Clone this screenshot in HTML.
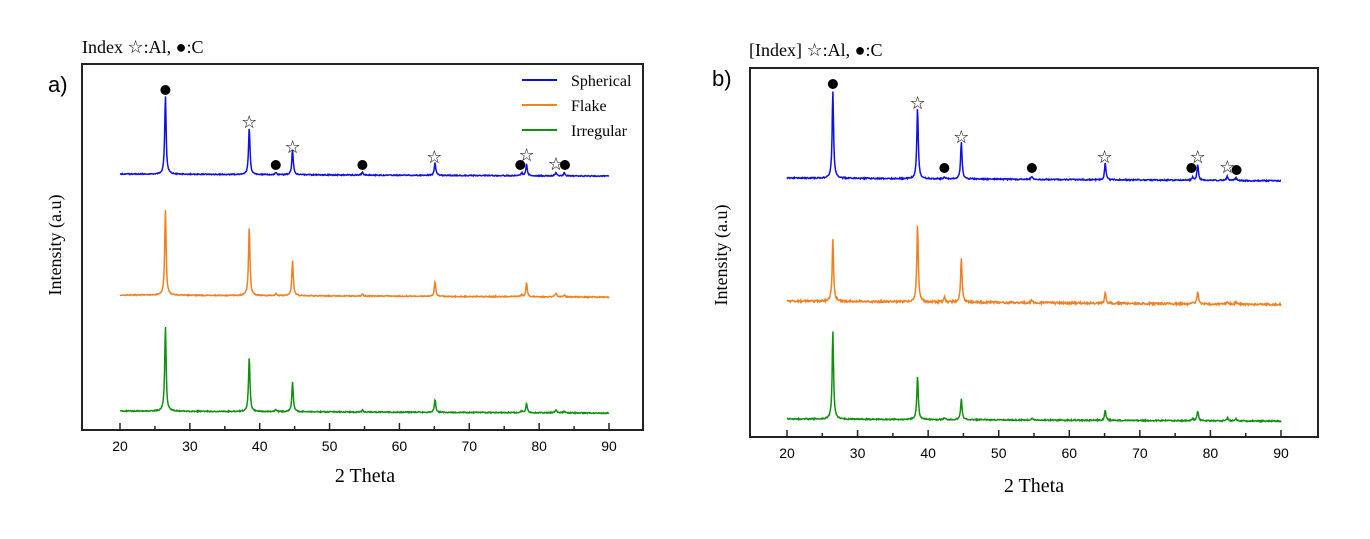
<!DOCTYPE html>
<html><head><meta charset="utf-8"><style>
body{margin:0;background:#fff;width:1370px;height:534px;overflow:hidden}
svg text{font-family:"Liberation Serif",serif}
.t{font-family:"Liberation Sans",sans-serif;font-size:14px}
</style></head><body>
<svg id="s" width="1370" height="534" xmlns="http://www.w3.org/2000/svg">
<text x="82" y="53" font-size="18">Index ☆:Al, ●:C</text>
<text x="48" y="92" font-size="22" style="font-family:'Liberation Sans',sans-serif">a)</text>
<rect x="82" y="64" width="561" height="366" fill="none" stroke="#222" stroke-width="2"/>
<text transform="translate(61,245) rotate(-90)" font-size="18" text-anchor="middle">Intensity (a.u)</text>
<text x="365" y="482" font-size="20" text-anchor="middle">2 Theta</text>
<line x1="522" y1="80" x2="557" y2="80" stroke="#1010e0" stroke-width="2"/>
<line x1="522" y1="105" x2="557" y2="105" stroke="#f08020" stroke-width="2"/>
<line x1="522" y1="130" x2="557" y2="130" stroke="#109010" stroke-width="2"/>
<text x="571" y="86" font-size="16">Spherical</text>
<text x="571" y="111" font-size="16">Flake</text>
<text x="571" y="136" font-size="16">Irregular</text>

<text x="749" y="56" font-size="18">[Index] ☆:Al, ●:C</text>
<text x="712" y="86" font-size="22" style="font-family:'Liberation Sans',sans-serif">b)</text>
<rect x="750" y="68" width="568" height="369" fill="none" stroke="#222" stroke-width="2"/>
<text transform="translate(727,255) rotate(-90)" font-size="18" text-anchor="middle">Intensity (a.u)</text>
<text x="1034" y="492" font-size="20" text-anchor="middle">2 Theta</text>
</svg>
<script>
var s=document.getElementById('s'),NS="http://www.w3.org/2000/svg";
function el(t,a,txt){var e=document.createElementNS(NS,t);for(var k in a)e.setAttribute(k,a[k]);if(txt)e.textContent=txt;s.appendChild(e);return e;}
var seed=1;function rnd(){seed=(seed*9301+49297)%233280;return seed/233280;}
function panel(P){
 var X=function(v){return P.x20+(v-20)*(P.x90-P.x20)/70;};
 for(var v=20;v<=90;v+=5){var big=v%10==0;el('line',{x1:X(v),y1:P.bot,x2:X(v),y2:P.bot-(big?7:4),stroke:'#222','stroke-width':1.5});
  if(big)el('text',{x:X(v),y:P.bot+21,'text-anchor':'middle','class':'t'},String(v));}
 P.series.forEach(function(sr){
  var pts=[];for(var t=20;t<=90;t+=0.07){var y=sr.base+(t-20)*sr.tilt;
   sr.pk.forEach(function(p){var w=p[2]||0.12;y-=p[1]/(1+Math.pow((t-p[0])/w,2));});
   y+=(rnd()-0.5)*sr.noise;pts.push(X(t).toFixed(1)+','+y.toFixed(1));}
  el('polyline',{points:pts.join(' '),fill:'none',stroke:sr.c,'stroke-width':1.5});
 });
 P.dots.forEach(function(d){el('circle',{cx:X(d[0]),cy:d[1],r:5,fill:'#000'});});
 P.stars.forEach(function(d){el('text',{x:X(d[0]),y:d[1]+7,'text-anchor':'middle','font-size':18,'font-weight':'bold',style:"font-family:'DejaVu Sans',sans-serif"},'☆');});
}
var std=function(a,b,c,d,e,f,g,h){return [[26.5,a],[38.5,b],[44.7,c],[65.1,d],[78.2,e],[82.4,f,0.15],[54.7,g],[42.3,h],[77.5,g],[83.6,g]];};
panel({x20:120,x90:609,bot:430,
 series:[{c:'#1010e0',base:174,tilt:0.03,noise:1,pk:std(78,47,25,13,12,3,3,2)},
 {c:'#f08020',base:295,tilt:0.03,noise:1,pk:std(86,69,35,15,14,3,2,2)},
 {c:'#109010',base:411,tilt:0.03,noise:1,pk:std(85,55,30,13,10,3,2,2)}],
 dots:[[26.5,90],[42.3,165],[54.7,165],[77.3,165],[83.7,165]],
 stars:[[38.5,121],[44.7,146],[65,156],[78.2,154],[82.4,163]]});
panel({x20:787,x90:1281,bot:437,
 series:[{c:'#1010e0',base:178,tilt:0.04,noise:1.2,pk:std(87,71,37,17,16,4,3,2)},
 {c:'#f08020',base:301,tilt:0.05,noise:2,pk:std(62,78,44,10,12,3,2,5)},
 {c:'#109010',base:419,tilt:0.03,noise:1.2,pk:std(88,44,21,10,10,3,2,2)}],
 dots:[[26.5,84],[42.3,168],[54.7,168],[77.3,168],[83.7,170]],
 stars:[[38.5,102],[44.7,136],[65,156],[78.2,156],[82.4,166]]});
</script>
</body></html>
